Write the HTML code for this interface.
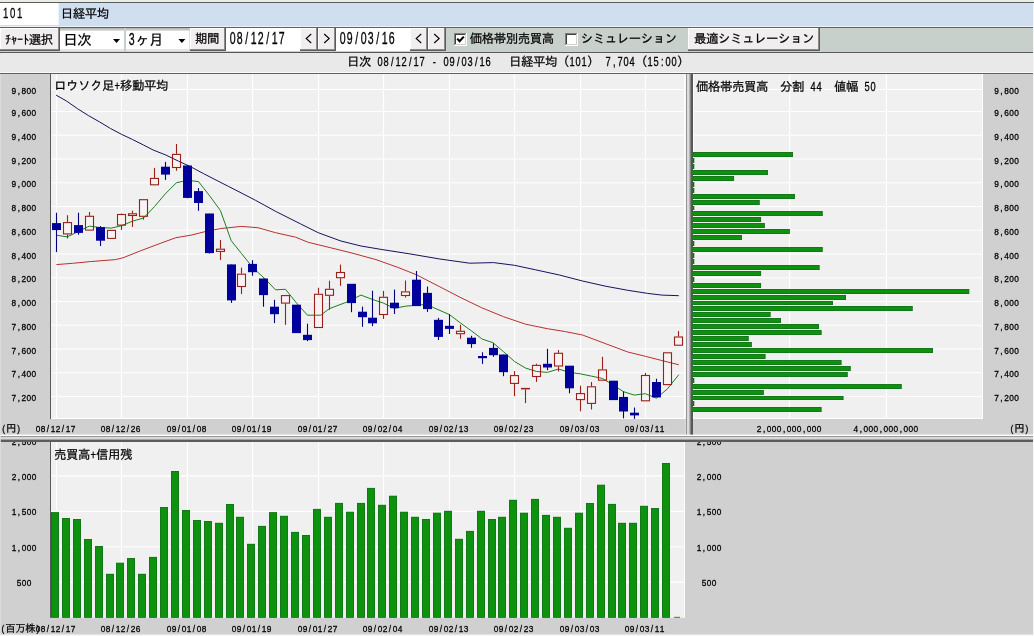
<!DOCTYPE html>
<html lang="ja"><head><meta charset="utf-8"><title>日経平均 チャート</title>
<style>
html,body{margin:0;padding:0;background:#d0d0d0;overflow:hidden}
svg{display:block}
text.a{font-family:"Liberation Sans","IPAGothic",sans-serif;text-anchor:middle;stroke:#000;stroke-width:0.3px}
text.j{font-family:"Liberation Sans","IPAGothic","Noto Sans CJK JP",sans-serif;text-anchor:middle;stroke:#000;stroke-width:0.22px}
</style></head><body>
<svg width="1034" height="636" viewBox="0 0 1034 636">
<rect x="0.00" y="0.00" width="1034.00" height="636.00" fill="#d0d0d0" />
<rect x="0.00" y="0.00" width="1034.00" height="2.00" fill="#ecece6" />
<rect x="0.00" y="2.00" width="1034.00" height="1.00" fill="#5c5c5c" />
<rect x="0.00" y="3.00" width="1034.00" height="23.00" fill="#cfdff0" />
<rect x="0.00" y="3.00" width="58.60" height="22.00" fill="#ffffff" />
<rect x="0.00" y="26.00" width="1034.00" height="1.00" fill="#eef0f2" />
<rect x="0.00" y="27.00" width="1034.00" height="1.00" fill="#606060" />
<rect x="0.00" y="28.00" width="1034.00" height="24.00" fill="#c8d0cc" />
<rect x="0.00" y="52.00" width="1034.00" height="1.00" fill="#585858" />
<rect x="0.00" y="53.00" width="1034.00" height="19.00" fill="#e9e9e9" />
<rect x="0.00" y="72.00" width="1034.00" height="1.00" fill="#fafafa" />
<rect x="0.00" y="73.00" width="1034.00" height="1.00" fill="#606060" />
<text transform="translate(2.20,17.80) scale(0.64,1)" x="5.47 16.41 27.34" y="0" font-size="15" class="a" fill="#000" xml:space="preserve">101</text>
<text x="67.00 79.00 91.00 103.00" y="17.90" font-size="12.48" class="j" fill="#000">日経平均</text>
<rect x="0.00" y="28.00" width="60.00" height="23.00" fill="#5c5c5c" />
<rect x="0.00" y="28.00" width="59.00" height="22.00" fill="#8c8c8c" />
<rect x="0.00" y="28.00" width="58.00" height="21.00" fill="#ffffff" />
<rect x="1.00" y="29.00" width="57.00" height="20.00" fill="#f0eeee" />
<text x="8.00 14.00 20.00 26.00 35.00 47.00" y="43.60" font-size="12.48" class="j" fill="#000">ﾁｬｰﾄ選択</text>
<rect x="60.00" y="28.00" width="64.00" height="1.00" fill="#b4b8b4" />
<rect x="60.00" y="29.00" width="64.00" height="1.00" fill="#c4c8c4" />
<rect x="60.00" y="30.00" width="64.00" height="1.00" fill="#dcdedc" />
<rect x="60.00" y="31.00" width="64.00" height="18.00" fill="#ffffff" />
<rect x="60.00" y="49.00" width="64.00" height="2.00" fill="#e4e6e4" />
<rect x="60.00" y="51.00" width="64.00" height="0.40" fill="#d8dad8" />
<text x="70.60 84.60" y="45.20" font-size="14.56" class="j" fill="#000">日次</text>
<path d="M113.0 39.0 L120.0 39.0 L116.5 43.0 Z" fill="#000"/>
<rect x="126.00" y="28.00" width="63.40" height="1.00" fill="#b4b8b4" />
<rect x="126.00" y="29.00" width="63.40" height="1.00" fill="#c4c8c4" />
<rect x="126.00" y="30.00" width="63.40" height="1.00" fill="#dcdedc" />
<rect x="126.00" y="31.00" width="63.40" height="18.00" fill="#ffffff" />
<rect x="126.00" y="49.00" width="63.40" height="2.00" fill="#e4e6e4" />
<rect x="126.00" y="51.00" width="63.40" height="0.40" fill="#d8dad8" />
<text transform="translate(128.30,45.20) scale(0.66,1)" x="5.30" y="0" font-size="16.0" class="a" fill="#000" xml:space="preserve">3</text>
<text x="142.30 156.30" y="45.20" font-size="14.56" class="j" fill="#000">ヶ月</text>
<path d="M178.4 39.0 L185.4 39.0 L181.9 43.0 Z" fill="#000"/>
<rect x="190.00" y="28.00" width="36.00" height="23.00" fill="#5c5c5c" />
<rect x="190.00" y="28.00" width="35.00" height="22.00" fill="#8c8c8c" />
<rect x="190.00" y="28.00" width="34.00" height="21.00" fill="#ffffff" />
<rect x="191.00" y="29.00" width="33.00" height="20.00" fill="#f0eeee" />
<text x="201.30 213.30" y="43.40" font-size="12.48" class="j" fill="#000">期間</text>
<rect x="226.00" y="28.00" width="74.00" height="23.00" fill="#ffffff" />
<text transform="translate(229.20,43.80) scale(0.66,1)" x="5.30 15.91 26.52 37.12 47.73 58.33 68.94 79.55" y="0" font-size="16.0" class="a" fill="#000" xml:space="preserve">08/12/17</text>
<rect x="300.00" y="28.00" width="18.00" height="23.00" fill="#5c5c5c" />
<rect x="300.00" y="28.00" width="17.00" height="22.00" fill="#8c8c8c" />
<rect x="300.00" y="28.00" width="16.00" height="21.00" fill="#ffffff" />
<rect x="301.00" y="29.00" width="15.00" height="20.00" fill="#f0eeee" />
<path d="M311.2 34 L306.2 38.5 L311.2 43" fill="none" stroke="#000" stroke-width="1.1"/>
<rect x="318.00" y="28.00" width="18.00" height="23.00" fill="#5c5c5c" />
<rect x="318.00" y="28.00" width="17.00" height="22.00" fill="#8c8c8c" />
<rect x="318.00" y="28.00" width="16.00" height="21.00" fill="#ffffff" />
<rect x="319.00" y="29.00" width="15.00" height="20.00" fill="#f0eeee" />
<path d="M324.2 34 L329.2 38.5 L324.2 43" fill="none" stroke="#000" stroke-width="1.1"/>
<rect x="336.00" y="28.00" width="74.00" height="23.00" fill="#ffffff" />
<text transform="translate(339.20,43.80) scale(0.66,1)" x="5.30 15.91 26.52 37.12 47.73 58.33 68.94 79.55" y="0" font-size="16.0" class="a" fill="#000" xml:space="preserve">09/03/16</text>
<rect x="410.00" y="28.00" width="18.00" height="23.00" fill="#5c5c5c" />
<rect x="410.00" y="28.00" width="17.00" height="22.00" fill="#8c8c8c" />
<rect x="410.00" y="28.00" width="16.00" height="21.00" fill="#ffffff" />
<rect x="411.00" y="29.00" width="15.00" height="20.00" fill="#f0eeee" />
<path d="M421.2 34 L416.2 38.5 L421.2 43" fill="none" stroke="#000" stroke-width="1.1"/>
<rect x="428.00" y="28.00" width="18.00" height="23.00" fill="#5c5c5c" />
<rect x="428.00" y="28.00" width="17.00" height="22.00" fill="#8c8c8c" />
<rect x="428.00" y="28.00" width="16.00" height="21.00" fill="#ffffff" />
<rect x="429.00" y="29.00" width="15.00" height="20.00" fill="#f0eeee" />
<path d="M434.2 34 L439.2 38.5 L434.2 43" fill="none" stroke="#000" stroke-width="1.1"/>
<rect x="454.00" y="33.00" width="13.00" height="13.00" fill="#ffffff" />
<rect x="454.00" y="33.00" width="12.00" height="1.00" fill="#808080" />
<rect x="454.00" y="33.00" width="1.00" height="12.00" fill="#808080" />
<rect x="455.00" y="34.00" width="10.00" height="1.00" fill="#404040" />
<rect x="455.00" y="34.00" width="1.00" height="10.00" fill="#404040" />
<rect x="455.00" y="44.00" width="11.00" height="1.00" fill="#d4d0c8" />
<rect x="465.00" y="34.00" width="1.00" height="11.00" fill="#d4d0c8" />
<path d="M457.2 38.6 L459.6 41.2 L463.8 36.6" fill="none" stroke="#000" stroke-width="2.1"/>
<text x="476.00 488.00 500.00 512.00 524.00 536.00 548.00" y="43.40" font-size="12.48" class="j" fill="#000">価格帯別売買高</text>
<rect x="565.00" y="33.00" width="13.00" height="13.00" fill="#ffffff" />
<rect x="565.00" y="33.00" width="12.00" height="1.00" fill="#808080" />
<rect x="565.00" y="33.00" width="1.00" height="12.00" fill="#808080" />
<rect x="566.00" y="34.00" width="10.00" height="1.00" fill="#404040" />
<rect x="566.00" y="34.00" width="1.00" height="10.00" fill="#404040" />
<rect x="566.00" y="44.00" width="11.00" height="1.00" fill="#d4d0c8" />
<rect x="576.00" y="34.00" width="1.00" height="11.00" fill="#d4d0c8" />
<text x="587.00 599.00 611.00 623.00 635.00 647.00 659.00 671.00" y="43.40" font-size="12.48" class="j" fill="#000">シミュレーション</text>
<rect x="688.00" y="28.00" width="132.00" height="23.00" fill="#5c5c5c" />
<rect x="688.00" y="28.00" width="131.00" height="22.00" fill="#8c8c8c" />
<rect x="688.00" y="28.00" width="130.00" height="21.00" fill="#ffffff" />
<rect x="689.00" y="29.00" width="129.00" height="20.00" fill="#f0eeee" />
<text x="700.30 712.30 724.30 736.30 748.30 760.30 772.30 784.30 796.30 808.30" y="43.40" font-size="12.48" class="j" fill="#000">最適シミュレーション</text>
<text x="353.20 365.20" y="65.90" font-size="12.48" class="j" fill="#000">日次</text>
<text transform="translate(347.20,65.90) scale(0.76,1)" x="35.53 43.42 51.32 59.21 67.11 75.00 82.89 90.79 98.68 106.58 114.47 122.37 130.26 138.16 146.05 153.95 161.84 169.74 177.63 185.53" y="0" font-size="12.2" class="a" fill="#000" xml:space="preserve"> 08/12/17 - 09/03/16</text>
<text x="515.20 527.20 539.20 551.20 563.20" y="65.90" font-size="12.48" class="j" fill="#000">日経平均（</text>
<text transform="translate(347.20,65.90) scale(0.76,1)" x="296.05 303.95 311.84" y="0" font-size="12.2" class="a" fill="#000" xml:space="preserve">101</text>
<text x="593.20" y="65.90" font-size="12.48" class="j" fill="#000">）</text>
<text transform="translate(347.20,65.90) scale(0.76,1)" x="335.53 343.42 351.32 359.21 367.11 375.00" y="0" font-size="12.2" class="a" fill="#000" xml:space="preserve"> 7,704</text>
<text x="641.20" y="65.90" font-size="12.48" class="j" fill="#000">（</text>
<text transform="translate(347.20,65.90) scale(0.76,1)" x="398.68 406.58 414.47 422.37 430.26" y="0" font-size="12.2" class="a" fill="#000" xml:space="preserve">15:00</text>
<text x="683.20" y="65.90" font-size="12.48" class="j" fill="#000">）</text>
<rect x="51.00" y="74.00" width="634.00" height="345.00" fill="#f0f0f0" />
<line x1="51.00" y1="396.50" x2="685.00" y2="396.50" stroke="#ffffff" stroke-width="1.2" />
<line x1="51.00" y1="372.75" x2="685.00" y2="372.75" stroke="#ffffff" stroke-width="1.2" />
<line x1="51.00" y1="349.00" x2="685.00" y2="349.00" stroke="#ffffff" stroke-width="1.2" />
<line x1="51.00" y1="325.25" x2="685.00" y2="325.25" stroke="#ffffff" stroke-width="1.2" />
<line x1="51.00" y1="301.50" x2="685.00" y2="301.50" stroke="#ffffff" stroke-width="1.2" />
<line x1="51.00" y1="277.75" x2="685.00" y2="277.75" stroke="#ffffff" stroke-width="1.2" />
<line x1="51.00" y1="254.00" x2="685.00" y2="254.00" stroke="#ffffff" stroke-width="1.2" />
<line x1="51.00" y1="230.25" x2="685.00" y2="230.25" stroke="#ffffff" stroke-width="1.2" />
<line x1="51.00" y1="206.50" x2="685.00" y2="206.50" stroke="#ffffff" stroke-width="1.2" />
<line x1="51.00" y1="182.75" x2="685.00" y2="182.75" stroke="#ffffff" stroke-width="1.2" />
<line x1="51.00" y1="159.00" x2="685.00" y2="159.00" stroke="#ffffff" stroke-width="1.2" />
<line x1="51.00" y1="135.25" x2="685.00" y2="135.25" stroke="#ffffff" stroke-width="1.2" />
<line x1="51.00" y1="111.50" x2="685.00" y2="111.50" stroke="#ffffff" stroke-width="1.2" />
<line x1="51.00" y1="89.50" x2="685.00" y2="89.50" stroke="#ffffff" stroke-width="1.2" />
<line x1="56.50" y1="74.00" x2="56.50" y2="419.00" stroke="#ffffff" stroke-width="1.2" />
<line x1="121.50" y1="74.00" x2="121.50" y2="419.00" stroke="#ffffff" stroke-width="1.2" />
<line x1="187.50" y1="74.00" x2="187.50" y2="419.00" stroke="#ffffff" stroke-width="1.2" />
<line x1="252.50" y1="74.00" x2="252.50" y2="419.00" stroke="#ffffff" stroke-width="1.2" />
<line x1="318.50" y1="74.00" x2="318.50" y2="419.00" stroke="#ffffff" stroke-width="1.2" />
<line x1="383.50" y1="74.00" x2="383.50" y2="419.00" stroke="#ffffff" stroke-width="1.2" />
<line x1="449.50" y1="74.00" x2="449.50" y2="419.00" stroke="#ffffff" stroke-width="1.2" />
<line x1="514.50" y1="74.00" x2="514.50" y2="419.00" stroke="#ffffff" stroke-width="1.2" />
<line x1="580.50" y1="74.00" x2="580.50" y2="419.00" stroke="#ffffff" stroke-width="1.2" />
<line x1="645.50" y1="74.00" x2="645.50" y2="419.00" stroke="#ffffff" stroke-width="1.2" />
<rect x="50.00" y="74.00" width="1.00" height="345.00" fill="#585858" />
<rect x="51.00" y="418.00" width="634.00" height="1.00" fill="#ffffff" />
<text transform="translate(11.40,401.00) scale(0.84,1)" x="2.98 8.93 14.88 20.83 26.79" y="0" font-size="9.9" class="a" fill="#000" xml:space="preserve">7,200</text>
<text transform="translate(11.40,377.25) scale(0.84,1)" x="2.98 8.93 14.88 20.83 26.79" y="0" font-size="9.9" class="a" fill="#000" xml:space="preserve">7,400</text>
<text transform="translate(11.40,353.50) scale(0.84,1)" x="2.98 8.93 14.88 20.83 26.79" y="0" font-size="9.9" class="a" fill="#000" xml:space="preserve">7,600</text>
<text transform="translate(11.40,329.75) scale(0.84,1)" x="2.98 8.93 14.88 20.83 26.79" y="0" font-size="9.9" class="a" fill="#000" xml:space="preserve">7,800</text>
<text transform="translate(11.40,306.00) scale(0.84,1)" x="2.98 8.93 14.88 20.83 26.79" y="0" font-size="9.9" class="a" fill="#000" xml:space="preserve">8,000</text>
<text transform="translate(11.40,282.25) scale(0.84,1)" x="2.98 8.93 14.88 20.83 26.79" y="0" font-size="9.9" class="a" fill="#000" xml:space="preserve">8,200</text>
<text transform="translate(11.40,258.50) scale(0.84,1)" x="2.98 8.93 14.88 20.83 26.79" y="0" font-size="9.9" class="a" fill="#000" xml:space="preserve">8,400</text>
<text transform="translate(11.40,234.75) scale(0.84,1)" x="2.98 8.93 14.88 20.83 26.79" y="0" font-size="9.9" class="a" fill="#000" xml:space="preserve">8,600</text>
<text transform="translate(11.40,211.00) scale(0.84,1)" x="2.98 8.93 14.88 20.83 26.79" y="0" font-size="9.9" class="a" fill="#000" xml:space="preserve">8,800</text>
<text transform="translate(11.40,187.25) scale(0.84,1)" x="2.98 8.93 14.88 20.83 26.79" y="0" font-size="9.9" class="a" fill="#000" xml:space="preserve">9,000</text>
<text transform="translate(11.40,163.50) scale(0.84,1)" x="2.98 8.93 14.88 20.83 26.79" y="0" font-size="9.9" class="a" fill="#000" xml:space="preserve">9,200</text>
<text transform="translate(11.40,139.75) scale(0.84,1)" x="2.98 8.93 14.88 20.83 26.79" y="0" font-size="9.9" class="a" fill="#000" xml:space="preserve">9,400</text>
<text transform="translate(11.40,116.00) scale(0.84,1)" x="2.98 8.93 14.88 20.83 26.79" y="0" font-size="9.9" class="a" fill="#000" xml:space="preserve">9,600</text>
<text transform="translate(11.40,94.00) scale(0.84,1)" x="2.98 8.93 14.88 20.83 26.79" y="0" font-size="9.9" class="a" fill="#000" xml:space="preserve">9,800</text>
<text transform="translate(1.20,431.60) scale(0.84,1)" x="2.98" y="0" font-size="9.9" class="a" fill="#000" xml:space="preserve">(</text>
<text x="11.20" y="431.60" font-size="10.40" class="j" fill="#000">円</text>
<text transform="translate(1.20,431.60) scale(0.84,1)" x="20.83" y="0" font-size="9.9" class="a" fill="#000" xml:space="preserve">)</text>
<text transform="translate(35.50,431.60) scale(0.84,1)" x="2.98 8.93 14.88 20.83 26.79 32.74 38.69 44.64" y="0" font-size="9.9" class="a" fill="#000" xml:space="preserve">08/12/17</text>
<text transform="translate(100.50,431.60) scale(0.84,1)" x="2.98 8.93 14.88 20.83 26.79 32.74 38.69 44.64" y="0" font-size="9.9" class="a" fill="#000" xml:space="preserve">08/12/26</text>
<text transform="translate(166.50,431.60) scale(0.84,1)" x="2.98 8.93 14.88 20.83 26.79 32.74 38.69 44.64" y="0" font-size="9.9" class="a" fill="#000" xml:space="preserve">09/01/08</text>
<text transform="translate(231.50,431.60) scale(0.84,1)" x="2.98 8.93 14.88 20.83 26.79 32.74 38.69 44.64" y="0" font-size="9.9" class="a" fill="#000" xml:space="preserve">09/01/19</text>
<text transform="translate(297.50,431.60) scale(0.84,1)" x="2.98 8.93 14.88 20.83 26.79 32.74 38.69 44.64" y="0" font-size="9.9" class="a" fill="#000" xml:space="preserve">09/01/27</text>
<text transform="translate(362.50,431.60) scale(0.84,1)" x="2.98 8.93 14.88 20.83 26.79 32.74 38.69 44.64" y="0" font-size="9.9" class="a" fill="#000" xml:space="preserve">09/02/04</text>
<text transform="translate(428.50,431.60) scale(0.84,1)" x="2.98 8.93 14.88 20.83 26.79 32.74 38.69 44.64" y="0" font-size="9.9" class="a" fill="#000" xml:space="preserve">09/02/13</text>
<text transform="translate(493.50,431.60) scale(0.84,1)" x="2.98 8.93 14.88 20.83 26.79 32.74 38.69 44.64" y="0" font-size="9.9" class="a" fill="#000" xml:space="preserve">09/02/23</text>
<text transform="translate(559.50,431.60) scale(0.84,1)" x="2.98 8.93 14.88 20.83 26.79 32.74 38.69 44.64" y="0" font-size="9.9" class="a" fill="#000" xml:space="preserve">09/03/03</text>
<text transform="translate(624.50,431.60) scale(0.84,1)" x="2.98 8.93 14.88 20.83 26.79 32.74 38.69 44.64" y="0" font-size="9.9" class="a" fill="#000" xml:space="preserve">09/03/11</text>
<rect x="63.50" y="222.60" width="8.00" height="11.30" fill="#f9f2f2" />
<rect x="85.50" y="216.30" width="8.00" height="13.80" fill="#f9f2f2" />
<rect x="107.50" y="230.40" width="8.00" height="8.00" fill="#f9f2f2" />
<rect x="117.50" y="214.50" width="8.00" height="10.60" fill="#f9f2f2" />
<rect x="128.50" y="213.80" width="8.00" height="1.70" fill="#f9f2f2" />
<rect x="139.50" y="199.70" width="8.00" height="16.60" fill="#f9f2f2" />
<rect x="150.50" y="178.40" width="8.00" height="6.40" fill="#f9f2f2" />
<rect x="172.50" y="154.40" width="8.00" height="13.10" fill="#f9f2f2" />
<rect x="216.50" y="249.20" width="8.00" height="2.20" fill="#f9f2f2" />
<rect x="237.50" y="274.20" width="8.00" height="12.30" fill="#f9f2f2" />
<rect x="281.50" y="295.60" width="8.00" height="7.50" fill="#f9f2f2" />
<rect x="314.50" y="294.30" width="8.00" height="33.20" fill="#f9f2f2" />
<rect x="325.50" y="289.30" width="8.00" height="6.00" fill="#f9f2f2" />
<rect x="336.50" y="272.50" width="8.00" height="5.20" fill="#f9f2f2" />
<rect x="379.50" y="297.30" width="8.00" height="17.20" fill="#f9f2f2" />
<rect x="401.50" y="291.90" width="8.00" height="3.60" fill="#f9f2f2" />
<rect x="456.50" y="331.30" width="8.00" height="2.40" fill="#f9f2f2" />
<rect x="510.50" y="375.60" width="8.00" height="7.80" fill="#f9f2f2" />
<rect x="532.50" y="365.40" width="8.00" height="11.10" fill="#f9f2f2" />
<rect x="554.50" y="353.30" width="8.00" height="12.70" fill="#f9f2f2" />
<rect x="576.50" y="393.60" width="8.00" height="6.00" fill="#f9f2f2" />
<rect x="587.50" y="386.80" width="8.00" height="16.60" fill="#f9f2f2" />
<rect x="598.50" y="369.90" width="8.00" height="10.30" fill="#f9f2f2" />
<rect x="641.50" y="375.50" width="8.00" height="25.30" fill="#f9f2f2" />
<rect x="663.50" y="352.80" width="8.00" height="31.80" fill="#f9f2f2" />
<rect x="674.50" y="337.00" width="8.00" height="8.20" fill="#f9f2f2" />
<polyline points="56.1,95.1 66.5,101.0 77.5,108.7 88.5,115.6 99.5,121.9 110.5,128.5 121.5,134.3 132.5,139.5 143.5,145.0 153.2,150.0 165.8,155.0 178.4,161.1 190.9,166.9 203.5,173.6 216.1,180.1 228.7,186.5 240.0,192.3 255.3,200.2 275.5,211.3 300.6,223.9 318.2,232.7 340.9,241.0 361.0,246.0 381.1,249.4 409.9,253.9 439.8,259.0 469.7,263.2 493.6,262.6 514.5,265.3 535.5,269.8 559.4,275.0 582.5,281.0 605.1,286.1 627.8,290.3 647.6,293.4 661.8,295.1 678.8,295.7" fill="none" stroke="#14145c" stroke-width="1.0" stroke-linejoin="round"/>
<polyline points="56.4,264.6 72.7,263.3 90.3,261.6 115.5,259.6 123.0,257.8 140.6,250.8 160.8,243.2 175.8,237.7 190.9,235.2 206.0,231.4 221.1,228.5 241.5,226.4 257.9,227.7 275.5,232.7 295.6,237.2 308.2,242.3 330.8,247.8 351.0,252.8 376.0,259.6 397.9,267.4 416.5,274.8 439.8,286.8 460.1,297.3 481.6,307.7 503.5,316.7 525.6,324.2 547.4,328.7 565.4,331.6 582.5,335.0 605.1,343.5 627.8,352.0 645.4,356.3 661.8,360.5 678.8,364.8" fill="none" stroke="#b83030" stroke-width="1.0" stroke-linejoin="round"/>
<polyline points="56.4,235.2 67.2,236.9 77.7,231.9 89.3,226.1 100.4,227.6 111.4,228.1 122.0,225.6 132.6,221.1 143.4,218.1 154.5,206.6 165.3,193.8 176.4,182.8 187.4,180.3 198.5,181.6 209.3,195.4 220.4,210.5 231.2,240.7 241.5,253.5 253.1,268.0 265.4,279.2 275.5,289.8 285.5,289.3 296.6,303.1 307.4,315.2 320.8,315.2 329.3,308.7 345.9,302.4 361.0,295.1 372.3,299.4 383.4,303.1 394.3,308.3 405.4,306.2 421.9,304.7 432.3,307.1 449.4,314.6 460.1,322.7 471.2,330.7 482.2,339.1 493.0,342.7 503.5,351.7 514.5,361.5 525.6,368.1 536.4,371.4 547.4,372.4 558.5,369.0 569.5,372.4 580.2,373.8 591.3,376.1 602.3,378.4 613.4,385.2 623.5,391.7 634.3,395.1 645.4,393.7 656.4,398.2 667.4,388.9 678.8,374.7" fill="none" stroke="#1c801c" stroke-width="1.0" stroke-linejoin="round"/>
<line x1="56.50" y1="212.70" x2="56.50" y2="252.10" stroke="#000078" stroke-width="1.1" />
<rect x="52.00" y="223.10" width="9.00" height="7.00" fill="#00009c" />
<line x1="67.50" y1="215.20" x2="67.50" y2="222.10" stroke="#982018" stroke-width="1.1" />
<line x1="67.50" y1="234.40" x2="67.50" y2="238.50" stroke="#982018" stroke-width="1.1" />
<rect x="63.50" y="222.60" width="8" height="11.30" fill="none" stroke="#982018" stroke-width="1.1"/>
<line x1="78.50" y1="212.70" x2="78.50" y2="234.70" stroke="#000078" stroke-width="1.1" />
<rect x="74.00" y="225.10" width="9.00" height="7.80" fill="#00009c" />
<line x1="89.50" y1="212.00" x2="89.50" y2="215.80" stroke="#982018" stroke-width="1.1" />
<rect x="85.50" y="216.30" width="8" height="13.80" fill="none" stroke="#982018" stroke-width="1.1"/>
<line x1="100.50" y1="226.10" x2="100.50" y2="246.00" stroke="#000078" stroke-width="1.1" />
<rect x="96.00" y="227.10" width="9.00" height="13.60" fill="#00009c" />
<rect x="107.50" y="230.40" width="8" height="8.00" fill="none" stroke="#982018" stroke-width="1.1"/>
<line x1="121.50" y1="213.50" x2="121.50" y2="214.00" stroke="#982018" stroke-width="1.1" />
<line x1="121.50" y1="225.60" x2="121.50" y2="229.90" stroke="#982018" stroke-width="1.1" />
<rect x="117.50" y="214.50" width="8" height="10.60" fill="none" stroke="#982018" stroke-width="1.1"/>
<line x1="132.50" y1="210.70" x2="132.50" y2="213.30" stroke="#982018" stroke-width="1.1" />
<line x1="132.50" y1="216.00" x2="132.50" y2="226.90" stroke="#982018" stroke-width="1.1" />
<rect x="128.50" y="213.80" width="8" height="1.70" fill="none" stroke="#982018" stroke-width="1.1"/>
<line x1="143.50" y1="216.80" x2="143.50" y2="219.60" stroke="#982018" stroke-width="1.1" />
<rect x="139.50" y="199.70" width="8" height="16.60" fill="none" stroke="#982018" stroke-width="1.1"/>
<line x1="154.50" y1="167.90" x2="154.50" y2="177.90" stroke="#982018" stroke-width="1.1" />
<rect x="150.50" y="178.40" width="8" height="6.40" fill="none" stroke="#982018" stroke-width="1.1"/>
<line x1="165.50" y1="161.90" x2="165.50" y2="179.90" stroke="#000078" stroke-width="1.1" />
<rect x="161.00" y="166.70" width="9.00" height="7.90" fill="#00009c" />
<line x1="176.50" y1="144.00" x2="176.50" y2="153.90" stroke="#982018" stroke-width="1.1" />
<line x1="176.50" y1="168.00" x2="176.50" y2="170.80" stroke="#982018" stroke-width="1.1" />
<rect x="172.50" y="154.40" width="8" height="13.10" fill="none" stroke="#982018" stroke-width="1.1"/>
<line x1="187.50" y1="164.90" x2="187.50" y2="198.30" stroke="#000078" stroke-width="1.1" />
<rect x="183.00" y="165.50" width="9.00" height="32.40" fill="#00009c" />
<line x1="198.50" y1="188.10" x2="198.50" y2="210.80" stroke="#000078" stroke-width="1.1" />
<rect x="194.00" y="191.10" width="9.00" height="11.90" fill="#00009c" />
<line x1="209.50" y1="213.70" x2="209.50" y2="253.60" stroke="#000078" stroke-width="1.1" />
<rect x="205.00" y="213.50" width="9.00" height="39.60" fill="#00009c" />
<line x1="220.50" y1="239.90" x2="220.50" y2="248.70" stroke="#982018" stroke-width="1.1" />
<line x1="220.50" y1="251.90" x2="220.50" y2="259.90" stroke="#982018" stroke-width="1.1" />
<rect x="216.50" y="249.20" width="8" height="2.20" fill="none" stroke="#982018" stroke-width="1.1"/>
<line x1="231.50" y1="264.60" x2="231.50" y2="302.90" stroke="#000078" stroke-width="1.1" />
<rect x="227.00" y="264.40" width="9.00" height="36.00" fill="#00009c" />
<line x1="241.50" y1="267.60" x2="241.50" y2="273.70" stroke="#982018" stroke-width="1.1" />
<line x1="241.50" y1="287.00" x2="241.50" y2="294.10" stroke="#982018" stroke-width="1.1" />
<rect x="237.50" y="274.20" width="8" height="12.30" fill="none" stroke="#982018" stroke-width="1.1"/>
<line x1="252.50" y1="260.10" x2="252.50" y2="275.80" stroke="#000078" stroke-width="1.1" />
<rect x="248.00" y="263.90" width="9.00" height="8.30" fill="#00009c" />
<line x1="263.50" y1="278.70" x2="263.50" y2="306.70" stroke="#000078" stroke-width="1.1" />
<rect x="259.00" y="278.50" width="9.00" height="16.60" fill="#00009c" />
<line x1="274.50" y1="299.80" x2="274.50" y2="323.10" stroke="#000078" stroke-width="1.1" />
<rect x="270.00" y="306.70" width="9.00" height="7.50" fill="#00009c" />
<line x1="285.50" y1="303.60" x2="285.50" y2="324.80" stroke="#982018" stroke-width="1.1" />
<rect x="281.50" y="295.60" width="8" height="7.50" fill="none" stroke="#982018" stroke-width="1.1"/>
<line x1="296.50" y1="304.90" x2="296.50" y2="332.90" stroke="#000078" stroke-width="1.1" />
<rect x="292.00" y="304.70" width="9.00" height="28.40" fill="#00009c" />
<line x1="307.50" y1="323.70" x2="307.50" y2="341.20" stroke="#000078" stroke-width="1.1" />
<rect x="303.00" y="334.80" width="9.00" height="5.30" fill="#00009c" />
<line x1="318.50" y1="287.70" x2="318.50" y2="293.80" stroke="#982018" stroke-width="1.1" />
<rect x="314.50" y="294.30" width="8" height="33.20" fill="none" stroke="#982018" stroke-width="1.1"/>
<line x1="329.50" y1="280.70" x2="329.50" y2="288.80" stroke="#982018" stroke-width="1.1" />
<line x1="329.50" y1="295.80" x2="329.50" y2="309.70" stroke="#982018" stroke-width="1.1" />
<rect x="325.50" y="289.30" width="8" height="6.00" fill="none" stroke="#982018" stroke-width="1.1"/>
<line x1="340.50" y1="264.60" x2="340.50" y2="272.00" stroke="#982018" stroke-width="1.1" />
<line x1="340.50" y1="278.20" x2="340.50" y2="285.80" stroke="#982018" stroke-width="1.1" />
<rect x="336.50" y="272.50" width="8" height="5.20" fill="none" stroke="#982018" stroke-width="1.1"/>
<line x1="351.50" y1="284.00" x2="351.50" y2="312.20" stroke="#000078" stroke-width="1.1" />
<rect x="347.00" y="283.80" width="9.00" height="19.30" fill="#00009c" />
<line x1="362.50" y1="306.60" x2="362.50" y2="326.80" stroke="#000078" stroke-width="1.1" />
<rect x="358.00" y="311.70" width="9.00" height="5.50" fill="#00009c" />
<line x1="372.50" y1="290.70" x2="372.50" y2="326.10" stroke="#000078" stroke-width="1.1" />
<rect x="368.00" y="317.70" width="9.00" height="5.60" fill="#00009c" />
<line x1="383.50" y1="290.90" x2="383.50" y2="296.80" stroke="#982018" stroke-width="1.1" />
<line x1="383.50" y1="315.00" x2="383.50" y2="319.00" stroke="#982018" stroke-width="1.1" />
<rect x="379.50" y="297.30" width="8" height="17.20" fill="none" stroke="#982018" stroke-width="1.1"/>
<line x1="394.50" y1="289.60" x2="394.50" y2="314.00" stroke="#000078" stroke-width="1.1" />
<rect x="390.00" y="302.70" width="9.00" height="5.50" fill="#00009c" />
<line x1="405.50" y1="280.50" x2="405.50" y2="291.40" stroke="#982018" stroke-width="1.1" />
<line x1="405.50" y1="296.00" x2="405.50" y2="297.60" stroke="#982018" stroke-width="1.1" />
<rect x="401.50" y="291.90" width="8" height="3.60" fill="none" stroke="#982018" stroke-width="1.1"/>
<line x1="416.50" y1="271.00" x2="416.50" y2="305.90" stroke="#000078" stroke-width="1.1" />
<rect x="412.00" y="279.70" width="9.00" height="26.40" fill="#00009c" />
<line x1="427.50" y1="286.50" x2="427.50" y2="311.90" stroke="#000078" stroke-width="1.1" />
<rect x="423.00" y="292.90" width="9.00" height="16.20" fill="#00009c" />
<line x1="438.50" y1="317.90" x2="438.50" y2="340.00" stroke="#000078" stroke-width="1.1" />
<rect x="434.00" y="319.80" width="9.00" height="17.10" fill="#00009c" />
<line x1="449.50" y1="314.30" x2="449.50" y2="334.00" stroke="#000078" stroke-width="1.1" />
<rect x="445.00" y="325.80" width="9.00" height="3.10" fill="#00009c" />
<line x1="460.50" y1="324.80" x2="460.50" y2="330.80" stroke="#982018" stroke-width="1.1" />
<line x1="460.50" y1="334.20" x2="460.50" y2="338.80" stroke="#982018" stroke-width="1.1" />
<rect x="456.50" y="331.30" width="8" height="2.40" fill="none" stroke="#982018" stroke-width="1.1"/>
<line x1="471.50" y1="335.80" x2="471.50" y2="347.80" stroke="#000078" stroke-width="1.1" />
<rect x="467.00" y="337.70" width="9.00" height="6.40" fill="#00009c" />
<line x1="482.50" y1="352.30" x2="482.50" y2="363.90" stroke="#000078" stroke-width="1.1" />
<rect x="478.00" y="356.00" width="9.00" height="2.20" fill="#00009c" />
<line x1="493.50" y1="343.30" x2="493.50" y2="356.80" stroke="#000078" stroke-width="1.1" />
<rect x="489.00" y="347.90" width="9.00" height="7.30" fill="#00009c" />
<line x1="503.50" y1="354.70" x2="503.50" y2="376.20" stroke="#000078" stroke-width="1.1" />
<rect x="499.00" y="354.50" width="9.00" height="17.70" fill="#00009c" />
<line x1="514.50" y1="371.10" x2="514.50" y2="375.10" stroke="#982018" stroke-width="1.1" />
<line x1="514.50" y1="383.90" x2="514.50" y2="396.20" stroke="#982018" stroke-width="1.1" />
<rect x="510.50" y="375.60" width="8" height="7.80" fill="none" stroke="#982018" stroke-width="1.1"/>
<line x1="525.50" y1="389.40" x2="525.50" y2="403.10" stroke="#982018" stroke-width="1.1" />
<rect x="521.00" y="387.90" width="9.00" height="1.50" fill="#982018" />
<line x1="536.50" y1="363.70" x2="536.50" y2="364.90" stroke="#982018" stroke-width="1.1" />
<line x1="536.50" y1="377.00" x2="536.50" y2="381.90" stroke="#982018" stroke-width="1.1" />
<rect x="532.50" y="365.40" width="8" height="11.10" fill="none" stroke="#982018" stroke-width="1.1"/>
<line x1="547.50" y1="348.80" x2="547.50" y2="370.20" stroke="#000078" stroke-width="1.1" />
<rect x="543.00" y="363.80" width="9.00" height="3.70" fill="#00009c" />
<line x1="558.50" y1="350.10" x2="558.50" y2="352.80" stroke="#982018" stroke-width="1.1" />
<line x1="558.50" y1="366.50" x2="558.50" y2="371.50" stroke="#982018" stroke-width="1.1" />
<rect x="554.50" y="353.30" width="8" height="12.70" fill="none" stroke="#982018" stroke-width="1.1"/>
<line x1="569.50" y1="365.90" x2="569.50" y2="393.30" stroke="#000078" stroke-width="1.1" />
<rect x="565.00" y="365.70" width="9.00" height="22.60" fill="#00009c" />
<line x1="580.50" y1="385.70" x2="580.50" y2="393.10" stroke="#982018" stroke-width="1.1" />
<line x1="580.50" y1="400.10" x2="580.50" y2="411.30" stroke="#982018" stroke-width="1.1" />
<rect x="576.50" y="393.60" width="8" height="6.00" fill="none" stroke="#982018" stroke-width="1.1"/>
<line x1="591.50" y1="382.00" x2="591.50" y2="386.30" stroke="#982018" stroke-width="1.1" />
<line x1="591.50" y1="403.90" x2="591.50" y2="409.50" stroke="#982018" stroke-width="1.1" />
<rect x="587.50" y="386.80" width="8" height="16.60" fill="none" stroke="#982018" stroke-width="1.1"/>
<line x1="602.50" y1="356.80" x2="602.50" y2="369.40" stroke="#982018" stroke-width="1.1" />
<rect x="598.50" y="369.90" width="8" height="10.30" fill="none" stroke="#982018" stroke-width="1.1"/>
<line x1="613.50" y1="380.90" x2="613.50" y2="399.90" stroke="#000078" stroke-width="1.1" />
<rect x="609.00" y="380.70" width="9.00" height="19.40" fill="#00009c" />
<line x1="623.50" y1="391.40" x2="623.50" y2="418.30" stroke="#000078" stroke-width="1.1" />
<rect x="619.00" y="396.90" width="9.00" height="14.60" fill="#00009c" />
<line x1="634.50" y1="407.50" x2="634.50" y2="418.90" stroke="#000078" stroke-width="1.1" />
<rect x="630.00" y="412.70" width="9.00" height="2.70" fill="#00009c" />
<line x1="645.50" y1="372.90" x2="645.50" y2="375.00" stroke="#982018" stroke-width="1.1" />
<rect x="641.50" y="375.50" width="8" height="25.30" fill="none" stroke="#982018" stroke-width="1.1"/>
<line x1="656.50" y1="378.70" x2="656.50" y2="397.20" stroke="#000078" stroke-width="1.1" />
<rect x="652.00" y="382.00" width="9.00" height="15.40" fill="#00009c" />
<rect x="663.50" y="352.80" width="8" height="31.80" fill="none" stroke="#982018" stroke-width="1.1"/>
<line x1="678.50" y1="331.10" x2="678.50" y2="336.50" stroke="#982018" stroke-width="1.1" />
<rect x="674.50" y="337.00" width="8" height="8.20" fill="none" stroke="#982018" stroke-width="1.1"/>
<text x="60.30 72.30 84.30 96.30 108.30" y="90.40" font-size="12.48" class="j" fill="#000">ロウソク足</text>
<text transform="translate(54.30,90.40) scale(0.76,1)" x="82.89" y="0" font-size="12.2" class="a" fill="#000" xml:space="preserve">+</text>
<text x="126.30 138.30 150.30 162.30" y="90.40" font-size="12.48" class="j" fill="#000">移動平均</text>
<rect x="684.00" y="74.00" width="2.00" height="344.40" fill="#ffffff" />
<rect x="685.60" y="74.00" width="0.50" height="361.40" fill="#e8e8e8" />
<rect x="686.00" y="74.00" width="1.00" height="361.40" fill="#949494" />
<rect x="687.00" y="74.00" width="2.00" height="361.40" fill="#dcdcdc" />
<rect x="689.00" y="74.00" width="1.00" height="361.40" fill="#b4b4b4" />
<rect x="690.00" y="74.00" width="1.00" height="361.40" fill="#868686" />
<rect x="691.00" y="74.00" width="2.00" height="361.40" fill="#585858" />
<rect x="693.00" y="74.00" width="290.00" height="345.00" fill="#f0f0f0" />
<line x1="693.00" y1="396.50" x2="983.00" y2="396.50" stroke="#ffffff" stroke-width="1.2" />
<line x1="693.00" y1="372.75" x2="983.00" y2="372.75" stroke="#ffffff" stroke-width="1.2" />
<line x1="693.00" y1="349.00" x2="983.00" y2="349.00" stroke="#ffffff" stroke-width="1.2" />
<line x1="693.00" y1="325.25" x2="983.00" y2="325.25" stroke="#ffffff" stroke-width="1.2" />
<line x1="693.00" y1="301.50" x2="983.00" y2="301.50" stroke="#ffffff" stroke-width="1.2" />
<line x1="693.00" y1="277.75" x2="983.00" y2="277.75" stroke="#ffffff" stroke-width="1.2" />
<line x1="693.00" y1="254.00" x2="983.00" y2="254.00" stroke="#ffffff" stroke-width="1.2" />
<line x1="693.00" y1="230.25" x2="983.00" y2="230.25" stroke="#ffffff" stroke-width="1.2" />
<line x1="693.00" y1="206.50" x2="983.00" y2="206.50" stroke="#ffffff" stroke-width="1.2" />
<line x1="693.00" y1="182.75" x2="983.00" y2="182.75" stroke="#ffffff" stroke-width="1.2" />
<line x1="693.00" y1="159.00" x2="983.00" y2="159.00" stroke="#ffffff" stroke-width="1.2" />
<line x1="693.00" y1="135.25" x2="983.00" y2="135.25" stroke="#ffffff" stroke-width="1.2" />
<line x1="693.00" y1="111.50" x2="983.00" y2="111.50" stroke="#ffffff" stroke-width="1.2" />
<line x1="693.00" y1="89.50" x2="983.00" y2="89.50" stroke="#ffffff" stroke-width="1.2" />
<line x1="789.60" y1="74.00" x2="789.60" y2="418.20" stroke="#ffffff" stroke-width="1.2" />
<line x1="886.40" y1="74.00" x2="886.40" y2="418.20" stroke="#ffffff" stroke-width="1.2" />
<rect x="693.00" y="418.00" width="290.00" height="1.00" fill="#ffffff" />
<rect x="982.00" y="74.00" width="1.00" height="345.00" fill="#ffffff" />
<rect x="693.00" y="74.00" width="1.00" height="345.00" fill="#fafafa" />
<rect x="692.50" y="152.00" width="100.50" height="5.00" fill="#14781a" />
<rect x="692.50" y="153.00" width="99.50" height="3.00" fill="#0c920c" />
<rect x="692.50" y="158.00" width="1.80" height="5.00" fill="#1c6c1c" />
<rect x="692.50" y="164.00" width="1.80" height="5.00" fill="#1c6c1c" />
<rect x="692.50" y="170.00" width="75.50" height="5.00" fill="#14781a" />
<rect x="692.50" y="171.00" width="74.50" height="3.00" fill="#0c920c" />
<rect x="692.50" y="176.00" width="41.60" height="5.00" fill="#14781a" />
<rect x="692.50" y="177.00" width="40.60" height="3.00" fill="#0c920c" />
<rect x="692.50" y="182.00" width="1.80" height="5.00" fill="#1c6c1c" />
<rect x="692.50" y="188.00" width="1.80" height="5.00" fill="#1c6c1c" />
<rect x="692.50" y="194.00" width="102.50" height="5.00" fill="#14781a" />
<rect x="692.50" y="195.00" width="101.50" height="3.00" fill="#0c920c" />
<rect x="692.50" y="200.00" width="67.30" height="5.00" fill="#14781a" />
<rect x="692.50" y="201.00" width="66.30" height="3.00" fill="#0c920c" />
<rect x="692.50" y="206.00" width="1.80" height="4.00" fill="#1c6c1c" />
<rect x="692.50" y="211.00" width="130.30" height="5.00" fill="#14781a" />
<rect x="692.50" y="212.00" width="129.30" height="3.00" fill="#0c920c" />
<rect x="692.50" y="217.00" width="68.60" height="5.00" fill="#14781a" />
<rect x="692.50" y="218.00" width="67.60" height="3.00" fill="#0c920c" />
<rect x="692.50" y="223.00" width="72.40" height="5.00" fill="#14781a" />
<rect x="692.50" y="224.00" width="71.40" height="3.00" fill="#0c920c" />
<rect x="692.50" y="229.00" width="97.40" height="5.00" fill="#14781a" />
<rect x="692.50" y="230.00" width="96.40" height="3.00" fill="#0c920c" />
<rect x="692.50" y="235.00" width="49.50" height="5.00" fill="#14781a" />
<rect x="692.50" y="236.00" width="48.50" height="3.00" fill="#0c920c" />
<rect x="692.50" y="241.00" width="1.80" height="5.00" fill="#1c6c1c" />
<rect x="692.50" y="247.00" width="130.30" height="5.00" fill="#14781a" />
<rect x="692.50" y="248.00" width="129.30" height="3.00" fill="#0c920c" />
<rect x="692.50" y="253.00" width="1.80" height="5.00" fill="#1c6c1c" />
<rect x="692.50" y="259.00" width="1.80" height="5.00" fill="#1c6c1c" />
<rect x="692.50" y="265.00" width="127.20" height="5.00" fill="#14781a" />
<rect x="692.50" y="266.00" width="126.20" height="3.00" fill="#0c920c" />
<rect x="692.50" y="271.00" width="68.60" height="5.00" fill="#14781a" />
<rect x="692.50" y="272.00" width="67.60" height="3.00" fill="#0c920c" />
<rect x="692.50" y="277.00" width="1.80" height="5.00" fill="#1c6c1c" />
<rect x="692.50" y="283.00" width="68.60" height="5.00" fill="#14781a" />
<rect x="692.50" y="284.00" width="67.60" height="3.00" fill="#0c920c" />
<rect x="692.50" y="289.00" width="276.80" height="5.00" fill="#14781a" />
<rect x="692.50" y="290.00" width="275.80" height="3.00" fill="#0c920c" />
<rect x="692.50" y="295.00" width="153.50" height="5.00" fill="#14781a" />
<rect x="692.50" y="296.00" width="152.50" height="3.00" fill="#0c920c" />
<rect x="692.50" y="301.00" width="140.50" height="4.00" fill="#14781a" />
<rect x="692.50" y="302.00" width="139.50" height="2.00" fill="#0c920c" />
<rect x="692.50" y="306.00" width="220.30" height="5.00" fill="#14781a" />
<rect x="692.50" y="307.00" width="219.30" height="3.00" fill="#0c920c" />
<rect x="692.50" y="312.00" width="78.20" height="5.00" fill="#14781a" />
<rect x="692.50" y="313.00" width="77.20" height="3.00" fill="#0c920c" />
<rect x="692.50" y="318.00" width="88.50" height="5.00" fill="#14781a" />
<rect x="692.50" y="319.00" width="87.50" height="3.00" fill="#0c920c" />
<rect x="692.50" y="324.00" width="126.50" height="5.00" fill="#14781a" />
<rect x="692.50" y="325.00" width="125.50" height="3.00" fill="#0c920c" />
<rect x="692.50" y="330.00" width="129.20" height="5.00" fill="#14781a" />
<rect x="692.50" y="331.00" width="128.20" height="3.00" fill="#0c920c" />
<rect x="692.50" y="336.00" width="56.30" height="5.00" fill="#14781a" />
<rect x="692.50" y="337.00" width="55.30" height="3.00" fill="#0c920c" />
<rect x="692.50" y="342.00" width="59.40" height="5.00" fill="#14781a" />
<rect x="692.50" y="343.00" width="58.40" height="3.00" fill="#0c920c" />
<rect x="692.50" y="348.00" width="240.50" height="5.00" fill="#14781a" />
<rect x="692.50" y="349.00" width="239.50" height="3.00" fill="#0c920c" />
<rect x="692.50" y="354.00" width="73.10" height="5.00" fill="#14781a" />
<rect x="692.50" y="355.00" width="72.10" height="3.00" fill="#0c920c" />
<rect x="692.50" y="360.00" width="149.10" height="5.00" fill="#14781a" />
<rect x="692.50" y="361.00" width="148.10" height="3.00" fill="#0c920c" />
<rect x="692.50" y="366.00" width="158.30" height="5.00" fill="#14781a" />
<rect x="692.50" y="367.00" width="157.30" height="3.00" fill="#0c920c" />
<rect x="692.50" y="372.00" width="155.30" height="5.00" fill="#14781a" />
<rect x="692.50" y="373.00" width="154.30" height="3.00" fill="#0c920c" />
<rect x="692.50" y="378.00" width="1.80" height="5.00" fill="#1c6c1c" />
<rect x="692.50" y="384.00" width="209.30" height="5.00" fill="#14781a" />
<rect x="692.50" y="385.00" width="208.30" height="3.00" fill="#0c920c" />
<rect x="692.50" y="390.00" width="71.40" height="5.00" fill="#14781a" />
<rect x="692.50" y="391.00" width="70.40" height="3.00" fill="#0c920c" />
<rect x="692.50" y="396.00" width="151.10" height="4.00" fill="#14781a" />
<rect x="692.50" y="397.00" width="150.10" height="2.00" fill="#0c920c" />
<rect x="692.50" y="401.00" width="1.80" height="5.00" fill="#1c6c1c" />
<rect x="692.50" y="407.00" width="129.20" height="5.00" fill="#14781a" />
<rect x="692.50" y="408.00" width="128.20" height="3.00" fill="#0c920c" />
<text x="702.20 714.20 726.20 738.20 750.20 762.20 774.20 786.20 798.20" y="90.60" font-size="12.48" class="j" fill="#000">価格帯売買高　分割</text>
<text transform="translate(696.20,90.60) scale(0.76,1)" x="146.05 153.95 161.84" y="0" font-size="12.2" class="a" fill="#000" xml:space="preserve"> 44</text>
<text x="828.20 840.20 852.20" y="90.60" font-size="12.48" class="j" fill="#000">　値幅</text>
<text transform="translate(696.20,90.60) scale(0.76,1)" x="217.11 225.00 232.89" y="0" font-size="12.2" class="a" fill="#000" xml:space="preserve"> 50</text>
<text transform="translate(994.00,401.00) scale(0.84,1)" x="2.98 8.93 14.88 20.83 26.79" y="0" font-size="9.9" class="a" fill="#000" xml:space="preserve">7,200</text>
<text transform="translate(994.00,377.25) scale(0.84,1)" x="2.98 8.93 14.88 20.83 26.79" y="0" font-size="9.9" class="a" fill="#000" xml:space="preserve">7,400</text>
<text transform="translate(994.00,353.50) scale(0.84,1)" x="2.98 8.93 14.88 20.83 26.79" y="0" font-size="9.9" class="a" fill="#000" xml:space="preserve">7,600</text>
<text transform="translate(994.00,329.75) scale(0.84,1)" x="2.98 8.93 14.88 20.83 26.79" y="0" font-size="9.9" class="a" fill="#000" xml:space="preserve">7,800</text>
<text transform="translate(994.00,306.00) scale(0.84,1)" x="2.98 8.93 14.88 20.83 26.79" y="0" font-size="9.9" class="a" fill="#000" xml:space="preserve">8,000</text>
<text transform="translate(994.00,282.25) scale(0.84,1)" x="2.98 8.93 14.88 20.83 26.79" y="0" font-size="9.9" class="a" fill="#000" xml:space="preserve">8,200</text>
<text transform="translate(994.00,258.50) scale(0.84,1)" x="2.98 8.93 14.88 20.83 26.79" y="0" font-size="9.9" class="a" fill="#000" xml:space="preserve">8,400</text>
<text transform="translate(994.00,234.75) scale(0.84,1)" x="2.98 8.93 14.88 20.83 26.79" y="0" font-size="9.9" class="a" fill="#000" xml:space="preserve">8,600</text>
<text transform="translate(994.00,211.00) scale(0.84,1)" x="2.98 8.93 14.88 20.83 26.79" y="0" font-size="9.9" class="a" fill="#000" xml:space="preserve">8,800</text>
<text transform="translate(994.00,187.25) scale(0.84,1)" x="2.98 8.93 14.88 20.83 26.79" y="0" font-size="9.9" class="a" fill="#000" xml:space="preserve">9,000</text>
<text transform="translate(994.00,163.50) scale(0.84,1)" x="2.98 8.93 14.88 20.83 26.79" y="0" font-size="9.9" class="a" fill="#000" xml:space="preserve">9,200</text>
<text transform="translate(994.00,139.75) scale(0.84,1)" x="2.98 8.93 14.88 20.83 26.79" y="0" font-size="9.9" class="a" fill="#000" xml:space="preserve">9,400</text>
<text transform="translate(994.00,116.00) scale(0.84,1)" x="2.98 8.93 14.88 20.83 26.79" y="0" font-size="9.9" class="a" fill="#000" xml:space="preserve">9,600</text>
<text transform="translate(994.00,94.00) scale(0.84,1)" x="2.98 8.93 14.88 20.83 26.79" y="0" font-size="9.9" class="a" fill="#000" xml:space="preserve">9,800</text>
<text transform="translate(756.60,431.70) scale(0.84,1)" x="2.98 8.93 14.88 20.83 26.79 32.74 38.69 44.64 50.60 56.55 62.50 68.45 74.40" y="0" font-size="9.9" class="a" fill="#000" xml:space="preserve">2,000,000,000</text>
<text transform="translate(853.40,431.70) scale(0.84,1)" x="2.98 8.93 14.88 20.83 26.79 32.74 38.69 44.64 50.60 56.55 62.50 68.45 74.40" y="0" font-size="9.9" class="a" fill="#000" xml:space="preserve">4,000,000,000</text>
<text transform="translate(1009.50,431.60) scale(0.84,1)" x="2.98" y="0" font-size="9.9" class="a" fill="#000" xml:space="preserve">(</text>
<text x="1019.50" y="431.60" font-size="10.40" class="j" fill="#000">円</text>
<text transform="translate(1009.50,431.60) scale(0.84,1)" x="20.83" y="0" font-size="9.9" class="a" fill="#000" xml:space="preserve">)</text>
<rect x="0.00" y="434.60" width="1034.00" height="1.40" fill="#ffffff" />
<rect x="0.00" y="436.00" width="1034.00" height="1.00" fill="#989898" />
<rect x="0.00" y="437.00" width="1034.00" height="2.00" fill="#d8d8d8" />
<rect x="0.00" y="439.00" width="1034.00" height="1.00" fill="#a4a4a4" />
<rect x="0.00" y="440.00" width="1034.00" height="2.00" fill="#5c5c5c" />
<rect x="51.00" y="442.00" width="634.00" height="175.80" fill="#f0f0f0" />
<line x1="51.00" y1="582.18" x2="685.00" y2="582.18" stroke="#ffffff" stroke-width="1.2" />
<line x1="51.00" y1="546.76" x2="685.00" y2="546.76" stroke="#ffffff" stroke-width="1.2" />
<line x1="51.00" y1="511.34" x2="685.00" y2="511.34" stroke="#ffffff" stroke-width="1.2" />
<line x1="51.00" y1="475.92" x2="685.00" y2="475.92" stroke="#ffffff" stroke-width="1.2" />
<line x1="56.50" y1="442.00" x2="56.50" y2="617.80" stroke="#ffffff" stroke-width="1.2" />
<line x1="121.50" y1="442.00" x2="121.50" y2="617.80" stroke="#ffffff" stroke-width="1.2" />
<line x1="187.50" y1="442.00" x2="187.50" y2="617.80" stroke="#ffffff" stroke-width="1.2" />
<line x1="252.50" y1="442.00" x2="252.50" y2="617.80" stroke="#ffffff" stroke-width="1.2" />
<line x1="318.50" y1="442.00" x2="318.50" y2="617.80" stroke="#ffffff" stroke-width="1.2" />
<line x1="383.50" y1="442.00" x2="383.50" y2="617.80" stroke="#ffffff" stroke-width="1.2" />
<line x1="449.50" y1="442.00" x2="449.50" y2="617.80" stroke="#ffffff" stroke-width="1.2" />
<line x1="514.50" y1="442.00" x2="514.50" y2="617.80" stroke="#ffffff" stroke-width="1.2" />
<line x1="580.50" y1="442.00" x2="580.50" y2="617.80" stroke="#ffffff" stroke-width="1.2" />
<line x1="645.50" y1="442.00" x2="645.50" y2="617.80" stroke="#ffffff" stroke-width="1.2" />
<rect x="50.00" y="442.00" width="1.00" height="175.80" fill="#585858" />
<rect x="684.00" y="442.00" width="1.00" height="175.80" fill="#ffffff" />
<rect x="51.00" y="512.10" width="8.00" height="105.70" fill="#14781a" />
<rect x="52.00" y="513.10" width="6.00" height="104.70" fill="#0c920c" />
<rect x="62.00" y="518.00" width="8.00" height="99.80" fill="#14781a" />
<rect x="63.00" y="519.00" width="6.00" height="98.80" fill="#0c920c" />
<rect x="73.00" y="519.00" width="8.00" height="98.80" fill="#14781a" />
<rect x="74.00" y="520.00" width="6.00" height="97.80" fill="#0c920c" />
<rect x="84.00" y="539.00" width="8.00" height="78.80" fill="#14781a" />
<rect x="85.00" y="540.00" width="6.00" height="77.80" fill="#0c920c" />
<rect x="95.00" y="546.00" width="8.00" height="71.80" fill="#14781a" />
<rect x="96.00" y="547.00" width="6.00" height="70.80" fill="#0c920c" />
<rect x="106.00" y="573.80" width="8.00" height="44.00" fill="#14781a" />
<rect x="107.00" y="574.80" width="6.00" height="43.00" fill="#0c920c" />
<rect x="116.00" y="562.70" width="8.00" height="55.10" fill="#14781a" />
<rect x="117.00" y="563.70" width="6.00" height="54.10" fill="#0c920c" />
<rect x="127.00" y="558.00" width="8.00" height="59.80" fill="#14781a" />
<rect x="128.00" y="559.00" width="6.00" height="58.80" fill="#0c920c" />
<rect x="138.00" y="573.80" width="8.00" height="44.00" fill="#14781a" />
<rect x="139.00" y="574.80" width="6.00" height="43.00" fill="#0c920c" />
<rect x="149.00" y="556.90" width="8.00" height="60.90" fill="#14781a" />
<rect x="150.00" y="557.90" width="6.00" height="59.90" fill="#0c920c" />
<rect x="160.00" y="507.00" width="8.00" height="110.80" fill="#14781a" />
<rect x="161.00" y="508.00" width="6.00" height="109.80" fill="#0c920c" />
<rect x="171.00" y="471.00" width="8.00" height="146.80" fill="#14781a" />
<rect x="172.00" y="472.00" width="6.00" height="145.80" fill="#0c920c" />
<rect x="182.00" y="510.00" width="8.00" height="107.80" fill="#14781a" />
<rect x="183.00" y="511.00" width="6.00" height="106.80" fill="#0c920c" />
<rect x="193.00" y="520.00" width="8.00" height="97.80" fill="#14781a" />
<rect x="194.00" y="521.00" width="6.00" height="96.80" fill="#0c920c" />
<rect x="204.00" y="521.00" width="8.00" height="96.80" fill="#14781a" />
<rect x="205.00" y="522.00" width="6.00" height="95.80" fill="#0c920c" />
<rect x="215.00" y="522.80" width="8.00" height="95.00" fill="#14781a" />
<rect x="216.00" y="523.80" width="6.00" height="94.00" fill="#0c920c" />
<rect x="226.00" y="504.00" width="8.00" height="113.80" fill="#14781a" />
<rect x="227.00" y="505.00" width="6.00" height="112.80" fill="#0c920c" />
<rect x="236.00" y="516.80" width="8.00" height="101.00" fill="#14781a" />
<rect x="237.00" y="517.80" width="6.00" height="100.00" fill="#0c920c" />
<rect x="247.00" y="543.80" width="8.00" height="74.00" fill="#14781a" />
<rect x="248.00" y="544.80" width="6.00" height="73.00" fill="#0c920c" />
<rect x="258.00" y="525.90" width="8.00" height="91.90" fill="#14781a" />
<rect x="259.00" y="526.90" width="6.00" height="90.90" fill="#0c920c" />
<rect x="269.00" y="512.10" width="8.00" height="105.70" fill="#14781a" />
<rect x="270.00" y="513.10" width="6.00" height="104.70" fill="#0c920c" />
<rect x="280.00" y="515.80" width="8.00" height="102.00" fill="#14781a" />
<rect x="281.00" y="516.80" width="6.00" height="101.00" fill="#0c920c" />
<rect x="291.00" y="531.90" width="8.00" height="85.90" fill="#14781a" />
<rect x="292.00" y="532.90" width="6.00" height="84.90" fill="#0c920c" />
<rect x="302.00" y="535.00" width="8.00" height="82.80" fill="#14781a" />
<rect x="303.00" y="536.00" width="6.00" height="81.80" fill="#0c920c" />
<rect x="313.00" y="508.90" width="8.00" height="108.90" fill="#14781a" />
<rect x="314.00" y="509.90" width="6.00" height="107.90" fill="#0c920c" />
<rect x="324.00" y="516.80" width="8.00" height="101.00" fill="#14781a" />
<rect x="325.00" y="517.80" width="6.00" height="100.00" fill="#0c920c" />
<rect x="335.00" y="502.90" width="8.00" height="114.90" fill="#14781a" />
<rect x="336.00" y="503.90" width="6.00" height="113.90" fill="#0c920c" />
<rect x="346.00" y="511.70" width="8.00" height="106.10" fill="#14781a" />
<rect x="347.00" y="512.70" width="6.00" height="105.10" fill="#0c920c" />
<rect x="357.00" y="502.90" width="8.00" height="114.90" fill="#14781a" />
<rect x="358.00" y="503.90" width="6.00" height="113.90" fill="#0c920c" />
<rect x="367.00" y="487.90" width="8.00" height="129.90" fill="#14781a" />
<rect x="368.00" y="488.90" width="6.00" height="128.90" fill="#0c920c" />
<rect x="378.00" y="504.80" width="8.00" height="113.00" fill="#14781a" />
<rect x="379.00" y="505.80" width="6.00" height="112.00" fill="#0c920c" />
<rect x="389.00" y="495.70" width="8.00" height="122.10" fill="#14781a" />
<rect x="390.00" y="496.70" width="6.00" height="121.10" fill="#0c920c" />
<rect x="400.00" y="511.70" width="8.00" height="106.10" fill="#14781a" />
<rect x="401.00" y="512.70" width="6.00" height="105.10" fill="#0c920c" />
<rect x="411.00" y="516.80" width="8.00" height="101.00" fill="#14781a" />
<rect x="412.00" y="517.80" width="6.00" height="100.00" fill="#0c920c" />
<rect x="422.00" y="519.00" width="8.00" height="98.80" fill="#14781a" />
<rect x="423.00" y="520.00" width="6.00" height="97.80" fill="#0c920c" />
<rect x="433.00" y="512.70" width="8.00" height="105.10" fill="#14781a" />
<rect x="434.00" y="513.70" width="6.00" height="104.10" fill="#0c920c" />
<rect x="444.00" y="510.80" width="8.00" height="107.00" fill="#14781a" />
<rect x="445.00" y="511.80" width="6.00" height="106.00" fill="#0c920c" />
<rect x="455.00" y="538.80" width="8.00" height="79.00" fill="#14781a" />
<rect x="456.00" y="539.80" width="6.00" height="78.00" fill="#0c920c" />
<rect x="466.00" y="530.90" width="8.00" height="86.90" fill="#14781a" />
<rect x="467.00" y="531.90" width="6.00" height="85.90" fill="#0c920c" />
<rect x="477.00" y="510.80" width="8.00" height="107.00" fill="#14781a" />
<rect x="478.00" y="511.80" width="6.00" height="106.00" fill="#0c920c" />
<rect x="488.00" y="519.00" width="8.00" height="98.80" fill="#14781a" />
<rect x="489.00" y="520.00" width="6.00" height="97.80" fill="#0c920c" />
<rect x="498.00" y="516.80" width="8.00" height="101.00" fill="#14781a" />
<rect x="499.00" y="517.80" width="6.00" height="100.00" fill="#0c920c" />
<rect x="509.00" y="499.80" width="8.00" height="118.00" fill="#14781a" />
<rect x="510.00" y="500.80" width="6.00" height="117.00" fill="#0c920c" />
<rect x="520.00" y="512.70" width="8.00" height="105.10" fill="#14781a" />
<rect x="521.00" y="513.70" width="6.00" height="104.10" fill="#0c920c" />
<rect x="531.00" y="498.90" width="8.00" height="118.90" fill="#14781a" />
<rect x="532.00" y="499.90" width="6.00" height="117.90" fill="#0c920c" />
<rect x="542.00" y="514.90" width="8.00" height="102.90" fill="#14781a" />
<rect x="543.00" y="515.90" width="6.00" height="101.90" fill="#0c920c" />
<rect x="553.00" y="516.80" width="8.00" height="101.00" fill="#14781a" />
<rect x="554.00" y="517.80" width="6.00" height="100.00" fill="#0c920c" />
<rect x="564.00" y="527.80" width="8.00" height="90.00" fill="#14781a" />
<rect x="565.00" y="528.80" width="6.00" height="89.00" fill="#0c920c" />
<rect x="575.00" y="512.70" width="8.00" height="105.10" fill="#14781a" />
<rect x="576.00" y="513.70" width="6.00" height="104.10" fill="#0c920c" />
<rect x="586.00" y="503.00" width="8.00" height="114.80" fill="#14781a" />
<rect x="587.00" y="504.00" width="6.00" height="113.80" fill="#0c920c" />
<rect x="597.00" y="484.70" width="8.00" height="133.10" fill="#14781a" />
<rect x="598.00" y="485.70" width="6.00" height="132.10" fill="#0c920c" />
<rect x="608.00" y="503.90" width="8.00" height="113.90" fill="#14781a" />
<rect x="609.00" y="504.90" width="6.00" height="112.90" fill="#0c920c" />
<rect x="618.00" y="522.80" width="8.00" height="95.00" fill="#14781a" />
<rect x="619.00" y="523.80" width="6.00" height="94.00" fill="#0c920c" />
<rect x="629.00" y="522.80" width="8.00" height="95.00" fill="#14781a" />
<rect x="630.00" y="523.80" width="6.00" height="94.00" fill="#0c920c" />
<rect x="640.00" y="505.80" width="8.00" height="112.00" fill="#14781a" />
<rect x="641.00" y="506.80" width="6.00" height="111.00" fill="#0c920c" />
<rect x="651.00" y="508.00" width="8.00" height="109.80" fill="#14781a" />
<rect x="652.00" y="509.00" width="6.00" height="108.80" fill="#0c920c" />
<rect x="662.00" y="463.00" width="8.00" height="154.80" fill="#14781a" />
<rect x="663.00" y="464.00" width="6.00" height="153.80" fill="#0c920c" />
<rect x="674.00" y="616.80" width="6.00" height="1.00" fill="#209020" />
<text x="60.20 72.20 84.20" y="459.20" font-size="12.48" class="j" fill="#000">売買高</text>
<text transform="translate(54.20,459.20) scale(0.76,1)" x="51.32" y="0" font-size="12.2" class="a" fill="#000" xml:space="preserve">+</text>
<text x="102.20 114.20 126.20" y="459.20" font-size="12.48" class="j" fill="#000">信用残</text>
<clipPath id="vc"><rect x="0" y="442.0" width="1034" height="200"/></clipPath>
<g clip-path="url(#vc)">
<text transform="translate(16.50,586.18) scale(0.84,1)" x="2.98 8.93 14.88" y="0" font-size="9.9" class="a" fill="#000" xml:space="preserve">500</text>
<text transform="translate(701.50,586.18) scale(0.84,1)" x="2.98 8.93 14.88" y="0" font-size="9.9" class="a" fill="#000" xml:space="preserve">500</text>
<text transform="translate(11.50,550.76) scale(0.84,1)" x="2.98 8.93 14.88 20.83 26.79" y="0" font-size="9.9" class="a" fill="#000" xml:space="preserve">1,000</text>
<text transform="translate(696.50,550.76) scale(0.84,1)" x="2.98 8.93 14.88 20.83 26.79" y="0" font-size="9.9" class="a" fill="#000" xml:space="preserve">1,000</text>
<text transform="translate(11.50,515.34) scale(0.84,1)" x="2.98 8.93 14.88 20.83 26.79" y="0" font-size="9.9" class="a" fill="#000" xml:space="preserve">1,500</text>
<text transform="translate(696.50,515.34) scale(0.84,1)" x="2.98 8.93 14.88 20.83 26.79" y="0" font-size="9.9" class="a" fill="#000" xml:space="preserve">1,500</text>
<text transform="translate(11.50,479.92) scale(0.84,1)" x="2.98 8.93 14.88 20.83 26.79" y="0" font-size="9.9" class="a" fill="#000" xml:space="preserve">2,000</text>
<text transform="translate(696.50,479.92) scale(0.84,1)" x="2.98 8.93 14.88 20.83 26.79" y="0" font-size="9.9" class="a" fill="#000" xml:space="preserve">2,000</text>
<text transform="translate(11.50,444.50) scale(0.84,1)" x="2.98 8.93 14.88 20.83 26.79" y="0" font-size="9.9" class="a" fill="#000" xml:space="preserve">2,500</text>
<text transform="translate(696.50,444.50) scale(0.84,1)" x="2.98 8.93 14.88 20.83 26.79" y="0" font-size="9.9" class="a" fill="#000" xml:space="preserve">2,500</text>
</g>
<text transform="translate(0.50,632.40) scale(0.84,1)" x="2.98" y="0" font-size="9.9" class="a" fill="#000" xml:space="preserve">(</text>
<text x="10.50 20.50 30.50" y="632.40" font-size="10.40" class="j" fill="#000">百万株</text>
<text transform="translate(0.50,632.40) scale(0.84,1)" x="44.64" y="0" font-size="9.9" class="a" fill="#000" xml:space="preserve">)</text>
<text transform="translate(35.50,632.20) scale(0.84,1)" x="2.98 8.93 14.88 20.83 26.79 32.74 38.69 44.64" y="0" font-size="9.9" class="a" fill="#000" xml:space="preserve">08/12/17</text>
<text transform="translate(100.50,632.20) scale(0.84,1)" x="2.98 8.93 14.88 20.83 26.79 32.74 38.69 44.64" y="0" font-size="9.9" class="a" fill="#000" xml:space="preserve">08/12/26</text>
<text transform="translate(166.50,632.20) scale(0.84,1)" x="2.98 8.93 14.88 20.83 26.79 32.74 38.69 44.64" y="0" font-size="9.9" class="a" fill="#000" xml:space="preserve">09/01/08</text>
<text transform="translate(231.50,632.20) scale(0.84,1)" x="2.98 8.93 14.88 20.83 26.79 32.74 38.69 44.64" y="0" font-size="9.9" class="a" fill="#000" xml:space="preserve">09/01/19</text>
<text transform="translate(297.50,632.20) scale(0.84,1)" x="2.98 8.93 14.88 20.83 26.79 32.74 38.69 44.64" y="0" font-size="9.9" class="a" fill="#000" xml:space="preserve">09/01/27</text>
<text transform="translate(362.50,632.20) scale(0.84,1)" x="2.98 8.93 14.88 20.83 26.79 32.74 38.69 44.64" y="0" font-size="9.9" class="a" fill="#000" xml:space="preserve">09/02/04</text>
<text transform="translate(428.50,632.20) scale(0.84,1)" x="2.98 8.93 14.88 20.83 26.79 32.74 38.69 44.64" y="0" font-size="9.9" class="a" fill="#000" xml:space="preserve">09/02/13</text>
<text transform="translate(493.50,632.20) scale(0.84,1)" x="2.98 8.93 14.88 20.83 26.79 32.74 38.69 44.64" y="0" font-size="9.9" class="a" fill="#000" xml:space="preserve">09/02/23</text>
<text transform="translate(559.50,632.20) scale(0.84,1)" x="2.98 8.93 14.88 20.83 26.79 32.74 38.69 44.64" y="0" font-size="9.9" class="a" fill="#000" xml:space="preserve">09/03/03</text>
<text transform="translate(624.50,632.20) scale(0.84,1)" x="2.98 8.93 14.88 20.83 26.79 32.74 38.69 44.64" y="0" font-size="9.9" class="a" fill="#000" xml:space="preserve">09/03/11</text>
<rect x="1033.00" y="3.00" width="1.00" height="633.00" fill="#f6f6f6" />
<rect x="0.00" y="634.50" width="1034.00" height="1.50" fill="#f8f8f8" />
<rect x="0.00" y="74.00" width="0.80" height="561.00" fill="#dedede" />
</svg>
</body></html>
